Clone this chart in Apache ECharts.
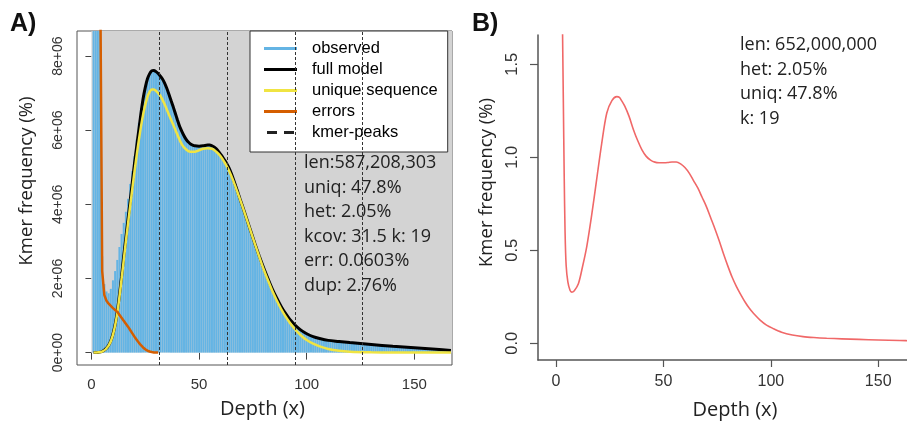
<!DOCTYPE html>
<html><head><meta charset="utf-8">
<script src="https://cdn.jsdelivr.net/npm/echarts@6/dist/echarts.min.js"></script>
<style>html,body{margin:0;padding:0;background:#fff}#c{width:907px;height:424px}</style>
</head><body><div id="c"></div>
<script>
// ---------- Panel A data (values in millions of k-mers) ----------
// observed histogram, depth = 1,2,3,...
const observedA = [
 60,40,25,12,2.6,1.85,1.65,1.6,1.72,1.95,
 2.2,2.5,2.85,3.2,3.5,3.8,4.15,4.55,4.9,5.3,
 5.75,6.2,6.6,6.95,7.2,7.4,7.52,7.6,7.6,7.57,
 7.5,7.43,7.35,7.24,7.1,6.95,6.78,6.61,6.43,6.26,
 6.09,5.96,5.84,5.74,5.67,5.62,5.59,5.57,5.56,5.56,
 5.57,5.58,5.59,5.59,5.58,5.56,5.53,5.48,5.41,5.33,
 5.25,5.16,5.06,4.95,4.81,4.65,4.48,4.31,4.13,3.96,
 3.78,3.61,3.44,3.26,3.09,2.92,2.75,2.59,2.43,2.28,
 2.13,1.99,1.85,1.71,1.59,1.47,1.36,1.25,1.15,1.06,
 0.98,0.9,0.83,0.77,0.71,0.66,0.61,0.57,0.53,0.5,
 0.47,0.44,0.42,0.4,0.38,0.36,0.35,0.34,0.33,0.32,
 0.31,0.30,0.295,0.29,0.285,0.28,0.275,0.27,0.265,0.26,
 0.255,0.25,0.245,0.24,0.235,0.23,0.225,0.22,0.215,0.21,
 0.205,0.2,0.195,0.19,0.185,0.18,0.175,0.17,0.165,0.16,
 0.155,0.15,0.146,0.142,0.138,0.134,0.13,0.126,0.122,0.118,
 0.114,0.11,0.106,0.102,0.098,0.094,0.09,0.087,0.084,0.081,
 0.078,0.075,0.072,0.069,0.066,0.063
];
const modelDepths = [1,3,5,7,8,9,10,11,12,13,14,15,16,17,18,19,20,21,22,23,24,25,26,27,28,29,30,31,32,33,34,35,36,37,38,39,40,41,42,43,44,45,46,47,48,50,52,54,55,56,57,58,59,60,61,62,63,64,65,66,67,68,69,70,72,74,76,78,80,82,84,86,88,90,92,94,96,98,100,103,106,110,115,120,125,130,140,150,160,167];
const modelValues = [0,0.005,0.03,0.12,0.2,0.32,0.5,0.75,1.1,1.55,2.05,2.6,3.1,3.6,4.1,4.6,5.1,5.55,6.0,6.45,6.85,7.15,7.38,7.52,7.6,7.61,7.58,7.53,7.46,7.38,7.27,7.13,6.97,6.8,6.63,6.45,6.27,6.1,5.97,5.85,5.75,5.68,5.63,5.6,5.58,5.57,5.58,5.6,5.6,5.58,5.55,5.5,5.43,5.35,5.27,5.18,5.08,4.97,4.83,4.67,4.5,4.33,4.15,3.98,3.63,3.28,2.93,2.6,2.29,2.0,1.72,1.48,1.26,1.07,0.91,0.78,0.67,0.58,0.51,0.43,0.38,0.33,0.3,0.27,0.245,0.22,0.17,0.13,0.09,0.06];
const uniqueDepths = [1,5,8,10,12,14,16,18,20,22,24,26,27,28,29,30,32,34,36,38,40,42,44,46,48,50,52,54,56,58,60,62,64,66,68,70,72,74,76,78,80,82,84,86,88,90,92,94,96,98,100,103,106,110,115,120,130,140,167];
const uniqueValues = [0,0.025,0.19,0.48,1.06,1.98,3.0,3.95,4.88,5.72,6.42,6.9,7.03,7.1,7.1,7.06,6.93,6.7,6.42,6.15,5.87,5.62,5.48,5.42,5.42,5.46,5.5,5.51,5.5,5.42,5.3,5.12,4.9,4.62,4.3,3.97,3.62,3.27,2.92,2.58,2.25,1.95,1.67,1.42,1.19,0.99,0.82,0.67,0.54,0.43,0.34,0.24,0.17,0.1,0.05,0.025,0.008,0.002,0];
// errors, depth = 1..31
const errorsA = [60,35,20,11,2.2,1.55,1.4,1.32,1.26,1.2,1.15,1.1,1.02,0.94,0.86,0.78,0.7,0.61,0.52,0.43,0.35,0.27,0.2,0.14,0.09,0.055,0.03,0.015,0.006,0.002,0];
const kmerPeaks = [31.5, 63, 94.5, 126];
const statsA = ['len:587,208,303','uniq: 47.8%','het: 2.05%','kcov: 31.5 k: 19','err: 0.0603%','dup: 2.76%'];
const xTicks = [0, 50, 100, 150];
const yTicksA = [0, 2e6, 4e6, 6e6, 8e6];
const yTickLabelsA = ['0e+00','2e+06','4e+06','6e+06','8e+06'];
const legendNames = ['observed','full model','unique sequence','errors','kmer-peaks'];

// ---------- Panel B data ----------
const freqDepthsB = [3.0,3.4,3.8,4.2,4.7,5.5,6.5,7.3,8.5,10.4,12.3,14.3,16.6,18.9,21.2,23.6,26,28.3,29.5,30.5,32,34,36,38,40,42,44,46,48,50,52,54,56,58,60,62,64,66,68,70,72,74,76,78,80,82,84,86,88,90,92,95,98,101,105,110,115,120,126,133,141,150,160,167];
const freqValuesB = [1.7,1.3,0.9,0.6,0.42,0.33,0.285,0.275,0.283,0.32,0.41,0.52,0.69,0.88,1.07,1.237,1.305,1.326,1.322,1.305,1.275,1.22,1.15,1.09,1.04,1.005,0.985,0.974,0.971,0.971,0.972,0.975,0.975,0.965,0.945,0.915,0.875,0.835,0.785,0.735,0.675,0.615,0.55,0.48,0.415,0.355,0.305,0.262,0.222,0.188,0.16,0.125,0.098,0.08,0.06,0.045,0.036,0.031,0.027,0.024,0.021,0.018,0.015,0.013];
const statsB = ['len: 652,000,000','het: 2.05%','uniq: 47.8%','k: 19'];
const yTicksB = [0, 0.5, 1.0, 1.5];
const yTickLabelsB = ['0.0','0.5','1.0','1.5'];

// ---------- build ----------
const M = 1e6;
const obsData = observedA.map((v, i) => [i + 1, v * M]);
const modelData = modelDepths.map((d, i) => [d, modelValues[i] * M]);
const uniqueData = uniqueDepths.map((d, i) => [d, uniqueValues[i] * M]);
const errData = errorsA.map((v, i) => [i + 1, v * M]);
const freqData = freqDepthsB.map((d, i) => [d, freqValuesB[i]]);

const AX = {min: -6.7, max: 167.5};
const AY = {min: -0.334e6, max: 8.676e6};
const BX = {min: -8.4, max: 163.4};
const BY = {min: -0.0898, max: 1.6575};

const tickFont = 'Liberation Sans, Arial, sans-serif';
const textFont = '"Open Sans", sans-serif';

const chart = echarts.init(document.getElementById('c'), null, {renderer: 'canvas'});
chart.setOption({
  animation: false,
  backgroundColor: '#fff',
  grid: [
    {left: 77, top: 31, width: 375, height: 334, show: true, backgroundColor: '#fff', borderColor: '#555', borderWidth: 1},
    {left: 538, top: 35, width: 369, height: 325, show: false}
  ],
  xAxis: [
    {type: 'value', gridIndex: 0, min: AX.min, max: AX.max,
     axisLine: {show: false}, splitLine: {show: false},
     axisTick: {show: true, customValues: xTicks, length: 7, lineStyle: {color: '#444'}},
     axisLabel: {customValues: xTicks, margin: 12, fontSize: 15, color: '#333', fontFamily: tickFont}},
    {type: 'value', gridIndex: 1, min: BX.min, max: BX.max,
     axisLine: {show: true, onZero: false, lineStyle: {color: '#555', width: 1.5}}, splitLine: {show: false},
     axisTick: {show: true, customValues: xTicks, length: 7, lineStyle: {color: '#555', width: 1.2}},
     axisLabel: {customValues: xTicks, margin: 14, fontSize: 16, color: '#333', fontFamily: tickFont}}
  ],
  yAxis: [
    {type: 'value', gridIndex: 0, min: AY.min, max: AY.max,
     axisLine: {show: false}, splitLine: {show: false},
     axisTick: {show: true, customValues: yTicksA, length: 6, lineStyle: {color: '#444'}},
     axisLabel: {customValues: yTicksA, rotate: 90, margin: 12, fontSize: 14, color: '#333', fontFamily: tickFont,
       formatter: v => yTickLabelsA[yTicksA.indexOf(v)]}},
    {type: 'value', gridIndex: 1, min: BY.min, max: BY.max,
     axisLine: {show: true, onZero: false, lineStyle: {color: '#555', width: 1.5}}, splitLine: {show: false},
     axisTick: {show: true, customValues: yTicksB, length: 8, lineStyle: {color: '#555', width: 1.2}},
     axisLabel: {customValues: yTicksB, rotate: 90, margin: 17, fontSize: 16.5, color: '#333', fontFamily: tickFont,
       formatter: v => yTickLabelsB[yTicksB.indexOf(v)]}}
  ],
  legend: {
    data: legendNames.map(n => n === 'kmer-peaks'
      ? {name: n, icon: 'path://M0,0H10V3H0Z M17,0H27V3H17Z'}
      : {name: n}),
    icon: 'rect',
    orient: 'vertical', left: 250, top: 31,
    padding: [9, 10, 11, 14],
    backgroundColor: '#fff', borderColor: '#333', borderWidth: 1, borderRadius: 0,
    itemWidth: 33, itemHeight: 3, itemGap: 4,
    textStyle: {fontSize: 16.5, color: '#000', fontFamily: tickFont, padding: [0, 0, 0, 10]},
    selectedMode: false
  },
  series: [
    {name: 'bg', type: 'line', xAxisIndex: 0, yAxisIndex: 0, data: [], z: 0, silent: true,
     markArea: {silent: true, itemStyle: {color: '#D3D3D3'},
       data: [[{coord: [0, 0]}, {coord: [AX.max, AY.max]}]]}},
    {name: 'observed', type: 'bar', xAxisIndex: 0, yAxisIndex: 0, data: obsData, barWidth: '92%',
     itemStyle: {color: '#64B4E4'}, z: 2, clip: true, large: false},
    {name: 'full model', type: 'line', xAxisIndex: 0, yAxisIndex: 0, data: modelData, symbol: 'none', smooth: 0.3,
     itemStyle: {color: '#000'}, lineStyle: {color: '#000', width: 3}, z: 3},
    {name: 'unique sequence', type: 'line', xAxisIndex: 0, yAxisIndex: 0, data: uniqueData, symbol: 'none', smooth: 0.3,
     itemStyle: {color: '#F0E442'}, lineStyle: {color: '#F0E442', width: 2.5}, z: 4},
    {name: 'errors', type: 'line', xAxisIndex: 0, yAxisIndex: 0, data: errData, symbol: 'none',
     itemStyle: {color: '#D55E00'}, lineStyle: {color: '#D55E00', width: 2.5}, z: 5},
    {name: 'kmer-peaks', type: 'line', xAxisIndex: 0, yAxisIndex: 0, data: [], symbol: 'none',
     itemStyle: {color: '#222'}, lineStyle: {color: '#222', width: 2.5}, z: 6,
     markLine: {silent: true, symbol: ['none', 'none'], label: {show: false},
       lineStyle: {color: '#333', width: 1, type: [3, 2]},
       data: kmerPeaks.map(p => ({xAxis: p}))}},
    {name: 'freqB', type: 'line', xAxisIndex: 1, yAxisIndex: 1, data: freqData, symbol: 'none', smooth: 0.3,
     lineStyle: {color: '#F06868', width: 1.6}, z: 3}
  ],
  graphic: [
    {type: 'text', z: 100, left: 10, top: 12, style: {text: 'A)', font: 'bold 25px ' + tickFont, fill: '#111'}},
    {type: 'text', z: 100, left: 472, top: 12, style: {text: 'B)', font: 'bold 25px ' + tickFont, fill: '#111'}},
    {type: 'text', z: 100, x: 304, y: 150.75, style: {text: statsA.join('\n'), font: '18px ' + textFont, lineHeight: 24.5, fill: '#222', verticalAlign: 'top'}},
    {type: 'text', z: 100, x: 740, y: 32.75, style: {text: statsB.join('\n'), font: '18px ' + textFont, lineHeight: 24.5, fill: '#222', verticalAlign: 'top'}},
    {type: 'text', z: 100, x: 262.5, y: 409, style: {text: 'Depth (x)', font: '20px ' + textFont, fill: '#222', align: 'center', verticalAlign: 'middle'}},
    {type: 'text', z: 100, x: 735, y: 410, style: {text: 'Depth (x)', font: '20px ' + textFont, fill: '#222', align: 'center', verticalAlign: 'middle'}},
    {type: 'text', z: 100, x: 27, y: 181, rotation: Math.PI / 2, style: {text: 'Kmer frequency (%)', font: '18.5px ' + textFont, fill: '#222', align: 'center', verticalAlign: 'middle'}},
    {type: 'text', z: 100, x: 487, y: 182.5, rotation: Math.PI / 2, style: {text: 'Kmer frequency (%)', font: '18.5px ' + textFont, fill: '#222', align: 'center', verticalAlign: 'middle'}}
  ]
});
</script>
</body></html>
